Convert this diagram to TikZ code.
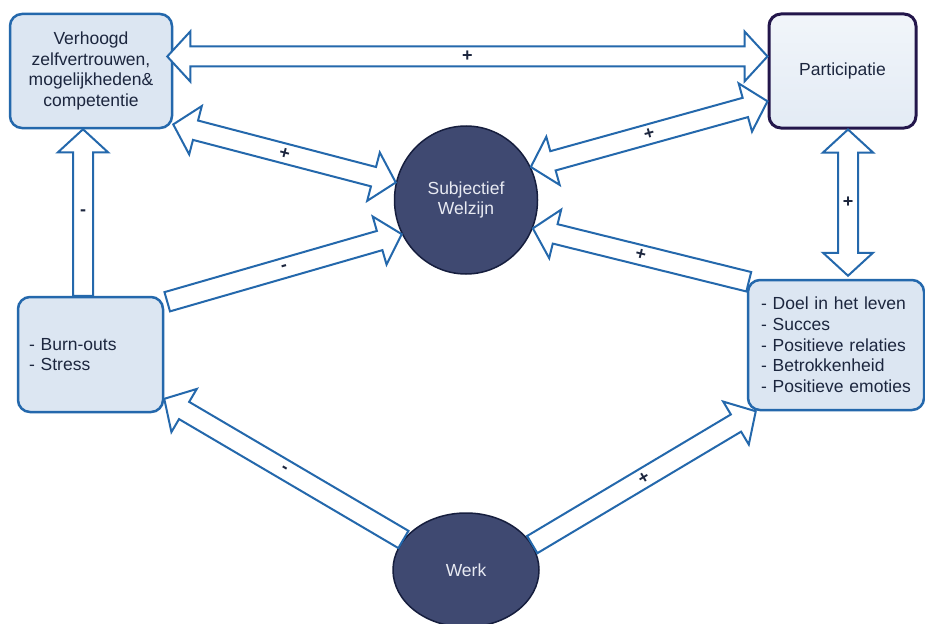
\documentclass[tikz,border=0pt]{standalone}
\usepackage{fontspec}
\setmainfont{Liberation Sans}
\usetikzlibrary{calc,shapes.geometric}

\definecolor{ablue}{RGB}{36,104,172}
\definecolor{boxfill}{RGB}{220,230,242}
\definecolor{navy}{RGB}{63,73,113}
\definecolor{navyline}{RGB}{22,30,62}
\definecolor{purp}{RGB}{35,22,75}
\definecolor{txt}{RGB}{28,38,62}
\definecolor{ctxt}{RGB}{232,234,242}

\newcommand\arrSW{10pt}
\newcommand\arrHW{25pt}
\newcommand\arrHL{23pt}

\tikzset{
  blk/.style={draw=ablue, fill=white, line width=2pt, line join=miter},
  bx/.style={draw=ablue, fill=boxfill, line width=2.5pt, rounded corners=12pt,
    text=txt, font=\fontsize{17.5}{20.7}\selectfont, inner sep=0pt},
  circ/.style={ellipse, draw=navyline, fill=navy, line width=1.5pt, text=ctxt,
    font=\fontsize{17.5}{20.7}\selectfont, inner sep=0pt, align=center},
  lbl/.style={font=\bfseries\fontsize{18}{18}\selectfont, text=txt, inner sep=0pt, midway}
}

% single block arrow from #2 (tail) to #3 (tip), label #4
\newcommand\singlearr[4][sloped]{%
\draw[blk] let \p1=(#2), \p2=(#3), \n1={atan2(\y2-\y1,\x2-\x1)}, \n2={veclen(\x2-\x1,\y2-\y1)} in
 ($(\p1)+(\n1+90:\arrSW)$) -- ($(\p1)+(\n1:\n2-\arrHL)+(\n1+90:\arrSW)$)
 -- ($(\p1)+(\n1:\n2-\arrHL)+(\n1+90:\arrHW)$) -- (\p2)
 -- ($(\p1)+(\n1:\n2-\arrHL)+(\n1-90:\arrHW)$) -- ($(\p1)+(\n1:\n2-\arrHL)+(\n1-90:\arrSW)$)
 -- ($(\p1)+(\n1-90:\arrSW)$) -- cycle;
\path (#2) -- node[lbl,#1] {#4} (#3);}

% double block arrow between #2 and #3, label #4
\newcommand\doublearr[4][sloped]{%
\draw[blk] let \p1=(#2), \p2=(#3), \n1={atan2(\y2-\y1,\x2-\x1)}, \n2={veclen(\x2-\x1,\y2-\y1)} in
 ($(\p1)+(\n1:\arrHL)+(\n1+90:\arrSW)$) -- ($(\p1)+(\n1:\n2-\arrHL)+(\n1+90:\arrSW)$)
 -- ($(\p1)+(\n1:\n2-\arrHL)+(\n1+90:\arrHW)$) -- (\p2)
 -- ($(\p1)+(\n1:\n2-\arrHL)+(\n1-90:\arrHW)$) -- ($(\p1)+(\n1:\n2-\arrHL)+(\n1-90:\arrSW)$)
 -- ($(\p1)+(\n1:\arrHL)+(\n1-90:\arrSW)$) -- ($(\p1)+(\n1:\arrHL)+(\n1-90:\arrHW)$)
 -- (\p1) -- ($(\p1)+(\n1:\arrHL)+(\n1+90:\arrHW)$) -- cycle;
\path (#2) -- node[lbl,#1] {#4} (#3);}

\begin{document}
\begin{tikzpicture}[x=1pt,y=1pt]
\useasboundingbox[fill=white] (0,0) rectangle (925,-623);

\node[bx, minimum width=162pt, minimum height=114pt, align=center] (V) at (91,-71)
  {Verhoogd\\zelfvertrouwen,\\mogelijkheden\&\\competentie};
\node[bx, draw=purp, line width=3pt, top color=white!60!boxfill, bottom color=boxfill!80!white,
  minimum width=147pt, minimum height=114pt] (P) at (842.5,-71) {Participatie};
\node[bx, text width=123pt, inner xsep=11pt, minimum height=115pt, align=left] (B) at (90.5,-354.5)
  {- Burn-outs\\- Stress};
\node[bx, text width=150pt, inner xsep=13pt, minimum height=130pt, align=left] (D) at (836,-345)
  {- Doel in het leven\\- Succes\\- Positieve relaties\\- Betrokkenheid\\- Positieve emoties};
\node[circ, minimum width=143pt, minimum height=148pt] (S) at (466,-200) {Subjectief\\Welzijn};
\node[circ, minimum width=146pt, minimum height=114pt] (W) at (466,-570) {Werk};

\doublearr{[xshift=-6pt]V.10}{P.169}{+}
\doublearr{V.-33}{S.166}{+}
\doublearr{S.27}{P.202}{+}
\doublearr[]{[xshift=5.5pt]P.south}{[xshift=12pt,yshift=3pt]D.north}{+}
\singlearr[]{[xshift=-7.5pt]B.north}{[xshift=-8pt]V.south}{-}
\singlearr{[shift={(3pt,-6pt)}]B.north east}{S.208}{-}
\singlearr{[shift={(2pt,-3pt)}]D.north west}{S.-23}{+}
\singlearr{W.154}{B.-31}{-}
\singlearr{W.21}{[xshift=9pt]D.south west}{+}
\end{tikzpicture}
\end{document}
